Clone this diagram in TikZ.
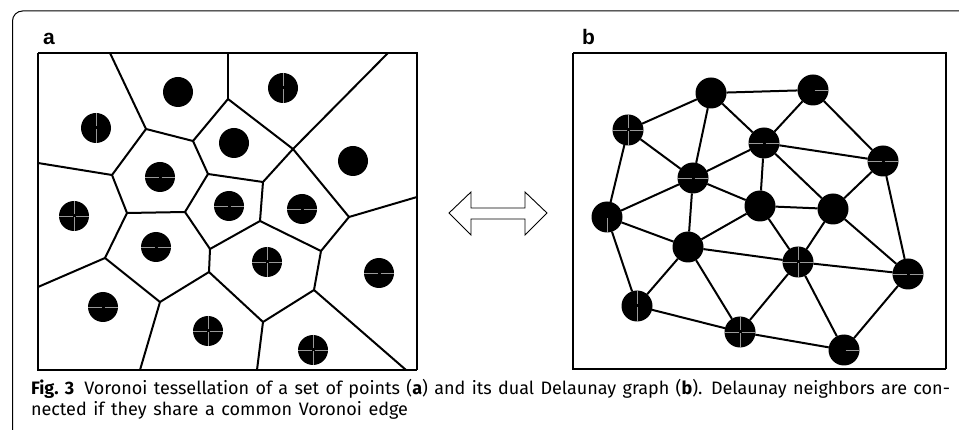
\documentclass[tikz,border=0pt]{standalone}
\usepackage{fontspec}
\setmainfont{Fira Sans}
\newfontfamily\labelfont{Liberation Sans}

% light streaks across a dot: horizontal, vertical, east half, south half
\newcommand\hglint[1]{\draw[glint] (#1.west) -- ([xshift=-1.5pt]#1.center) ([xshift=1.5pt]#1.center) -- (#1.east);}
\newcommand\vglint[1]{\draw[glint] (#1.north) -- ([yshift=1.5pt]#1.center) ([yshift=-1.5pt]#1.center) -- (#1.south);}
\newcommand\eglint[1]{\draw[glint] ([xshift=1.5pt]#1.center) -- (#1.east);}
\newcommand\sglint[1]{\draw[glint] ([yshift=-1.5pt]#1.center) -- (#1.south);}
% stretchable word spaces for the caption lines
\newcommand\capspacing{\spaceskip=6pt plus 12pt minus 2pt\relax}

\begin{document}
\begin{tikzpicture}[x=1pt,y=-1pt,
  every node/.style={inner sep=0pt,outer sep=0pt},
  frame/.style={line width=1pt,rounded corners=10pt},
  thinside/.style={line width=1.2pt},
  thickside/.style={line width=2.3pt},
  cell/.style={line width=2pt,line join=round},
  thincell/.style={line width=1.2pt},
  dot/.style={circle,fill=black,minimum size=30pt},
  bdot/.style={circle,fill=black,minimum size=31pt},
  link/.style={line width=2pt},
  glint/.style={draw=black!40,line width=0.6pt},
  panellabel/.style={font=\labelfont\bfseries\fontsize{21}{24}\selectfont,anchor=base west},
  captext/.style={font=\fontsize{18}{21}\selectfont,anchor=base west},
  dualarrow/.style={draw=black,line width=0.9pt,line join=miter}
]
\useasboundingbox (0,0) rectangle (959,430);

% outer frame, open on the right and bottom
\draw[frame] (12.5,430) -- (12.5,11) -- (959,11);

% ---------------- panel a: Voronoi tessellation ----------------
\node[panellabel] (la) at (43,45) {a};

\coordinate (t1) at (110,53);
\coordinate (t2) at (228,53);
\coordinate (t3) at (388,53);
\coordinate (l1) at (38,163);
\coordinate (l2) at (38,287);
\coordinate (r1) at (417,197);
\coordinate (b1) at (140,370);
\coordinate (b2) at (257,370);
\coordinate (b3) at (406,370);

\coordinate (v1) at (146,129);
\coordinate (v2) at (228,99);
\coordinate (v3) at (293,149);
\coordinate (v4) at (193,141);
\coordinate (v5) at (112,175);
\coordinate (v6) at (208,174);
\coordinate (v7) at (263,182);
\coordinate (v8) at (105,258);
\coordinate (v9) at (210,249);
\coordinate (v10) at (321,251);
\coordinate (v11) at (260,221);
\coordinate (v12) at (349,217);
\coordinate (v13) at (209,272);
\coordinate (v14) at (160,302);
\coordinate (v15) at (263,322);
\coordinate (v16) at (314,290);
\coordinate (v17) at (127,213);
\coordinate (v18) at (185,212);

\draw[cell] (t1) -- (v1) -- (v5) -- (l1);
\draw[cell] (v1) -- (v4) -- (v2) -- (v3) -- (t3);
\draw[thincell] (t2) -- (v2);
\draw[cell] (v4) -- (v6) -- (v7) -- (v3) -- (v12) -- (r1);
\draw[cell] (v5) -- (v17) -- (v18) -- (v6);
\draw[cell] (v17) -- (v8) -- (l2);
\draw[cell] (v18) -- (v9) -- (v11) -- (v7);
\draw[cell] (v11) -- (v10) -- (v12);
\draw[cell] (v9) -- (v13) -- (v14) -- (v8);
\draw[cell] (v14) -- (b1);
\draw[cell] (v13) -- (v15) -- (b2);
\draw[cell] (v10) -- (v16) -- (v15);
\draw[cell] (v16) -- (b3);

\draw[thinside] (38,53) -- (417,53) -- (417,370);
\draw[thickside] (38,53) -- (38,370) -- (417,370);

\node[dot] (p1) at (96,128) {};
\node[dot] (p2) at (178,92) {};
\node[dot] (p3) at (283,88) {};
\node[dot] (p4) at (234,143) {};
\node[dot] (p5) at (353,161) {};
\node[dot] (p6) at (160,177) {};
\node[dot] (p7) at (229,206) {};
\node[dot] (p8) at (302,209) {};
\node[dot] (p9) at (74,216) {};
\node[dot] (p10) at (156,247) {};
\node[dot] (p11) at (267,262) {};
\node[dot] (p12) at (379,273) {};
\node[dot] (p13) at (103,307) {};
\node[dot] (p14) at (208,331) {};
\node[dot] (p15) at (313,350) {};

\vglint{p1} \vglint{p3} \hglint{p6} \hglint{p7} \hglint{p8}
\hglint{p9} \vglint{p9} \hglint{p10} \hglint{p11} \vglint{p11}
\hglint{p12} \hglint{p13} \hglint{p14} \vglint{p14}
\hglint{p15} \vglint{p15}

% ---------------- double arrow ----------------
\draw[dualarrow] (449,213) -- (471,192) -- (471,208) -- (525,208) -- (525,192)
  -- (547,213) -- (525,235) -- (525,219) -- (471,219) -- (471,235) -- cycle;

% ---------------- panel b: Delaunay graph ----------------
\node[panellabel] (lb) at (582,45) {b};

\draw[thinside] (573,53) -- (946,53) -- (946,369);
\draw[thickside] (573,53) -- (573,369) -- (946,369);

\node[bdot] (q1) at (711,93) {};
\node[bdot] (q2) at (813,90) {};
\node[bdot] (q3) at (628,130) {};
\node[bdot] (q4) at (764,143) {};
\node[bdot] (q5) at (883,161) {};
\node[bdot] (q6) at (693,178) {};
\node[bdot] (q7) at (760,206) {};
\node[bdot] (q8) at (833,209) {};
\node[bdot] (q9) at (607,217) {};
\node[bdot] (q10) at (688,247) {};
\node[bdot] (q11) at (798,262) {};
\node[bdot] (q12) at (908,274) {};
\node[bdot] (q13) at (637,306) {};
\node[bdot] (q14) at (740,332) {};
\node[bdot] (q15) at (844,350) {};

\draw[link] (q1) -- (q2);
\draw[link] (q1) -- (q3);
\draw[link] (q1) -- (q6);
\draw[link] (q1) -- (q4);
\draw[link] (q2) -- (q4);
\draw[link] (q2) -- (q5);
\draw[link] (q3) -- (q6);
\draw[link] (q3) -- (q9);
\draw[link] (q4) -- (q6);
\draw[link] (q4) -- (q5);
\draw[link] (q4) -- (q7);
\draw[link] (q4) -- (q8);
\draw[link] (q5) -- (q8);
\draw[link] (q5) -- (q12);
\draw[link] (q6) -- (q9);
\draw[link] (q6) -- (q7);
\draw[link] (q6) -- (q10);
\draw[link] (q7) -- (q8);
\draw[link] (q7) -- (q10);
\draw[link] (q7) -- (q11);
\draw[link] (q8) -- (q11);
\draw[link] (q8) -- (q12);
\draw[link] (q9) -- (q10);
\draw[link] (q9) -- (q13);
\draw[link] (q10) -- (q11);
\draw[link] (q10) -- (q13);
\draw[link] (q10) -- (q14);
\draw[link] (q11) -- (q12);
\draw[link] (q11) -- (q14);
\draw[link] (q11) -- (q15);
\draw[link] (q12) -- (q15);
\draw[link] (q13) -- (q14);
\draw[link] (q14) -- (q15);

\eglint{q2} \hglint{q3} \vglint{q3} \hglint{q4} \hglint{q5} \hglint{q6}
\sglint{q9} \hglint{q11} \vglint{q11} \hglint{q12} \vglint{q13}
\hglint{q14} \vglint{q14} \eglint{q15}

% ---------------- caption, both lines set to fixed widths ----------------
\node[captext] (cap1) at (31,395) {\hbox to 919pt{\capspacing\textbf{Fig.~3}\hspace{10pt plus 4pt}Voronoi tessellation of a set of points (\textbf{a}) and its dual Delaunay graph (\textbf{b}). Delaunay neighbors are con-}};
\node[captext] (cap2) at (31,415) {\hbox to 377pt{\capspacing nected if they share a common Voronoi edge}};
\end{tikzpicture}
\end{document}
